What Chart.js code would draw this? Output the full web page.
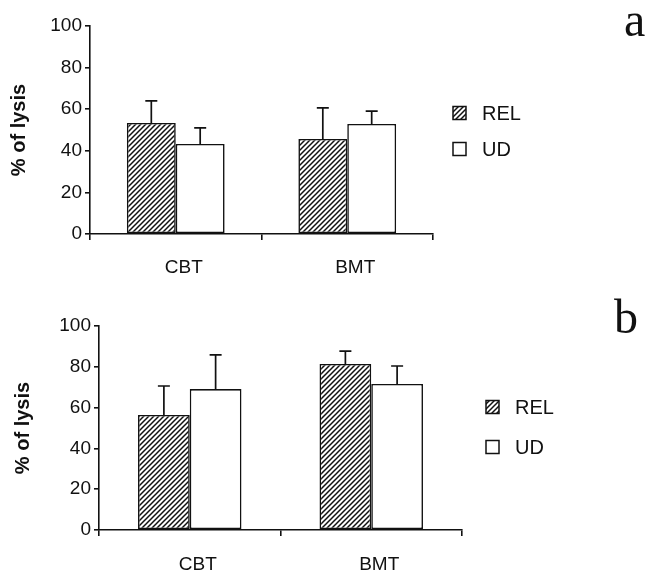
<!DOCTYPE html>
<html>
<head>
<meta charset="utf-8">
<script src="https://cdn.jsdelivr.net/npm/chart.js@4/dist/chart.umd.min.js"></script>
<style>
  body { margin: 0; background: #fff; width: 647px; height: 575px; position: relative; overflow: hidden; }
  canvas { position: absolute; left: 0; }
  #chartA { top: 0; }
  #chartB { top: 290px; }
  .tag { position: absolute; font-family: "Liberation Serif", serif; font-size: 48px; line-height: 1; color: #111; }
</style>
</head>
<body>
<canvas id="chartA" width="647" height="290"></canvas>
<canvas id="chartB" width="647" height="285"></canvas>
<div class="tag" style="left:624px; top:-4px;">a</div>
<div class="tag" style="left:614px; top:293px;">b</div>
<script>
// datos
const categories = ['CBT', 'BMT'];
const seriesNames = ['REL', 'UD'];
const yTicks = [0, 20, 40, 60, 80, 100];

// panel a
const relA = [53.4, 45.7];
const relErrA = [10.6, 14.9];
const udA = [43.3, 52.9];
const udErrA = [7.7, 6.2];

// panel b
const relB = [56.4, 81.4];
const relErrB = [14.2, 6.3];
const udB = [69.1, 71.6];
const udErrB = [16.7, 8.8];

const INK = '#111';
const SANS = '"Liberation Sans", Arial, sans-serif';

function hatch(ctx) {
  const c = document.createElement('canvas');
  c.width = 5; c.height = 5;
  const x = c.getContext('2d');
  x.fillStyle = '#fff';
  x.fillRect(0, 0, 5, 5);
  x.strokeStyle = INK;
  x.lineWidth = 1.5;
  x.beginPath();
  x.moveTo(0, 5); x.lineTo(5, 0);
  x.moveTo(-1, 1); x.lineTo(1, -1);
  x.moveTo(4, 6); x.lineTo(6, 4);
  x.stroke();
  return ctx.createPattern(c, 'repeat');
}

// barras de error (solo hacia arriba)
const errorBars = {
  id: 'errorBars',
  afterDatasetsDraw(chart) {
    const ctx = chart.ctx;
    const y = chart.scales.y;
    chart.data.datasets.forEach((ds, i) => {
      chart.getDatasetMeta(i).data.forEach((bar, j) => {
        const top = y.getPixelForValue(ds.data[j] + ds.errors[j]);
        ctx.save();
        ctx.strokeStyle = INK;
        ctx.lineWidth = 1.7;
        ctx.beginPath();
        ctx.moveTo(bar.x, bar.y);
        ctx.lineTo(bar.x, top);
        ctx.moveTo(bar.x - 6, top);
        ctx.lineTo(bar.x + 6, top);
        ctx.stroke();
        ctx.restore();
      });
    });
  }
};

// leyenda a la derecha
const sideLegend = {
  id: 'sideLegend',
  afterDraw(chart, args, opts) {
    const ctx = chart.ctx;
    const area = chart.chartArea;
    const mid = (area.top + area.bottom) / 2 + opts.shift;
    chart.data.datasets.forEach((ds, i) => {
      const cy = mid + (i === 0 ? -opts.gap / 2 : opts.gap / 2);
      const bx = area.right + opts.dx;
      ctx.save();
      ctx.fillStyle = ds.backgroundColor;
      ctx.fillRect(bx, cy - 6.5, 13, 13);
      ctx.strokeStyle = INK;
      ctx.lineWidth = 1.5;
      ctx.strokeRect(bx, cy - 6.5, 13, 13);
      ctx.fillStyle = INK;
      ctx.font = '20px ' + SANS;
      ctx.textBaseline = 'middle';
      ctx.fillText(ds.label, bx + 29, cy + 1);
      ctx.restore();
    });
  }
};

function makeChart(id, rel, relErr, ud, udErr, pad, yWidth, labelPad, legendOpts) {
  const canvas = document.getElementById(id);
  const ctx = canvas.getContext('2d');
  return new Chart(ctx, {
    type: 'bar',
    data: {
      labels: categories,
      datasets: [{
        label: seriesNames[0],
        data: rel,
        errors: relErr,
        backgroundColor: hatch(ctx),
        borderColor: INK,
        borderWidth: 1.6,
        borderSkipped: false
      }, {
        label: seriesNames[1],
        data: ud,
        errors: udErr,
        backgroundColor: '#fff',
        borderColor: INK,
        borderWidth: 1.6,
        borderSkipped: false
      }]
    },
    options: {
      responsive: false,
      animation: false,
      categoryPercentage: 0.57,
      barPercentage: 1.0,
      layout: { padding: pad },
      plugins: {
        legend: { display: false },
        tooltip: { enabled: false },
        sideLegend: legendOpts
      },
      scales: {
        x: {
          grid: { display: true, drawOnChartArea: false, drawTicks: true, tickLength: 6, color: INK, lineWidth: 1.6, offset: true },
          border: { color: INK, width: 1.6 },
          ticks: { color: INK, font: { family: SANS, size: 19 }, padding: labelPad, labelOffset: 8 },
          afterFit(s) { s.height = 40; }
        },
        y: {
          min: 0,
          max: 100,
          afterBuildTicks(s) { s.ticks = yTicks.map(v => ({ value: v })); },
          ticks: { color: INK, font: { family: SANS, size: 19 }, padding: 3 },
          grid: { drawOnChartArea: false, tickLength: 5, color: INK, lineWidth: 1.6 },
          border: { color: INK, width: 1.6 },
          title: {
            display: true,
            text: '% of lysis',
            color: INK,
            font: { family: SANS, size: 20, weight: 'bold' },
            padding: { top: 7, bottom: 0 }
          },
          afterFit(s) { s.width = yWidth; }
        }
      }
    },
    plugins: [errorBars, sideLegend]
  });
}

makeChart('chartA', relA, relErrA, udA, udErrA,
  { left: 0, top: 26, right: 214, bottom: 16 }, 90, 16,
  { dx: 20, gap: 36, shift: 1 });

makeChart('chartB', relB, relErrB, udB, udErrB,
  { left: 4, top: 36, right: 185, bottom: 5 }, 95, 17,
  { dx: 24, gap: 40, shift: -1 });
</script>
</body>
</html>
